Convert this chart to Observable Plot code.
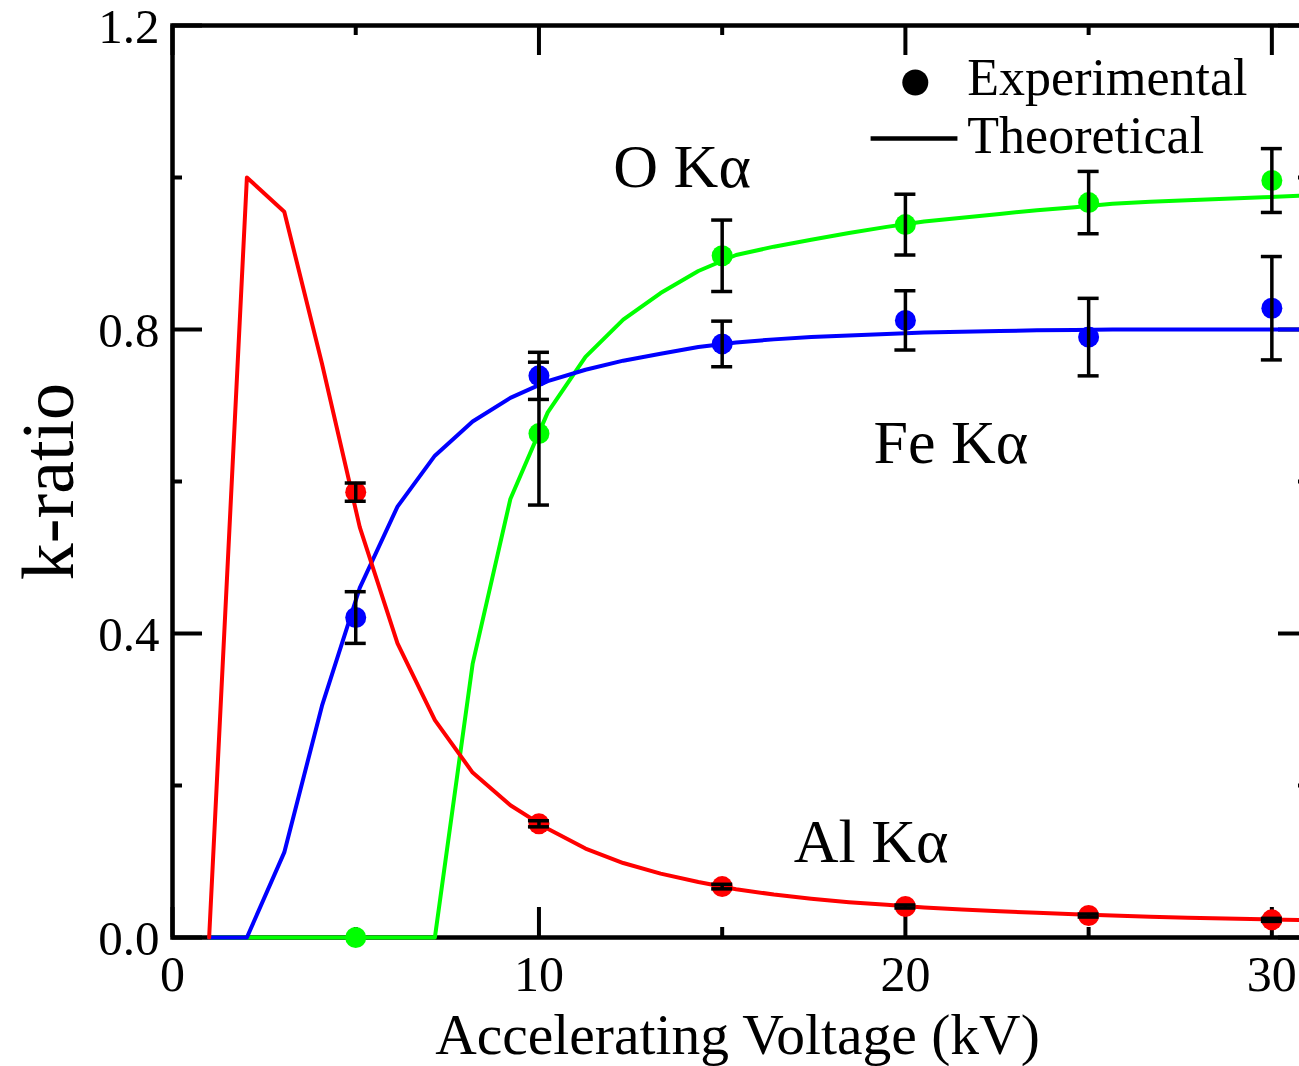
<!DOCTYPE html>
<html>
<head>
<meta charset="utf-8">
<script src="https://cdn.jsdelivr.net/npm/d3@7"></script>
<script src="https://cdn.jsdelivr.net/npm/@observablehq/plot@0.6"></script>
<style>
  html, body { margin: 0; padding: 0; background: #fff; overflow: hidden; }
  #chart svg { display: block; max-width: none !important; }
</style>
</head>
<body>
<div id="chart"></div>
<script>
// Simulated k-ratios (theory) on the calculation grid, in kV
const voltageGrid = [1, 2.03, 3.05, 4.08, 5.11, 6.14, 7.16, 8.19, 9.22, 10.24, 11.27, 12.30, 13.32, 14.35, 15.38,
  16.41, 17.43, 18.46, 19.49, 20.51, 21.54, 22.57, 23.59, 24.62, 25.65, 26.68, 27.70, 28.73, 29.76, 30.78, 31.81];
const alTheory = [0, 1.0, 0.955, 0.755, 0.54, 0.387, 0.286, 0.217, 0.174, 0.143, 0.117, 0.098, 0.084, 0.073, 0.0635,
  0.0565, 0.051, 0.0465, 0.043, 0.0395, 0.0368, 0.0345, 0.0325, 0.0305, 0.0288, 0.0273, 0.026, 0.0249, 0.0239, 0.0229, 0.022];
const feTheory = [0, 0, 0.112, 0.305, 0.46, 0.567, 0.634, 0.679, 0.71, 0.732, 0.747, 0.759, 0.768, 0.777, 0.783,
  0.787, 0.790, 0.792, 0.794, 0.796, 0.797, 0.798, 0.799, 0.7995, 0.8, 0.8, 0.8, 0.8, 0.8, 0.8, 0.8];
const oTheory = [0, 0, 0, 0, 0, 0, 0, 0.36, 0.577, 0.691, 0.764, 0.813, 0.848, 0.877, 0.898,
  0.909, 0.918, 0.927, 0.935, 0.942, 0.947, 0.952, 0.957, 0.961, 0.9655, 0.968, 0.970, 0.972, 0.974, 0.976, 0.977];

// Measured k-ratios with their uncertainties
const expVoltage = [5, 10, 15, 20, 25, 30];
const alMeasured = [0.586, 0.1496, 0.067, 0.0408, 0.0289, 0.0232];
const alError = [0.012, 0.004, 0.003, 0.002, 0.002, 0.002];
const feMeasured = [0.421, 0.739, 0.781, 0.812, 0.790, 0.828];
const feError = [0.034, 0.031, 0.030, 0.039, 0.051, 0.068];
const oMeasured = [0.0, 0.663, 0.897, 0.938, 0.967, 0.996];
const oError = [null, 0.094, 0.047, 0.040, 0.041, 0.042];

// Axis ticks
const xMajorTicks = [0, 10, 20, 30];
const xMinorTicks = [5, 15, 25];
const yMajorTicks = [0, 0.4, 0.8, 1.2];
const yMinorTicks = [0.2, 0.6, 1.0];
const yTickLabels = ["0.0", "0.4", "0.8", "1.2"];

const lineLabels = [
  {label: "O Kα", kV: 12.03, k: 0.987},
  {label: "Fe Kα", kV: 19.13, k: 0.6237},
  {label: "Al Kα", kV: 16.95, k: 0.0987}
];

const W = 1330, H = 1066;
const mL = 172, mR = 22, mT = 25, mB = 129;
const frameW = W - mL - mR, frameH = H - mT - mB;
const FONT = "Liberation Serif";

const theory = voltageGrid.map((v, i) => ({kV: v, al: alTheory[i], fe: feTheory[i], o: oTheory[i]}));

const series = [
  {key: "o", color: "#00ff00", values: oMeasured, err: oError},
  {key: "fe", color: "#0000ff", values: feMeasured, err: feError},
  {key: "al", color: "#ff0000", values: alMeasured, err: alError}
];

const dotMarks = series.map(s =>
  Plot.dot(expVoltage.map((v, i) => ({kV: v, k: s.values[i]})), {x: "kV", y: "k", r: 10.5, fill: s.color, stroke: "none"})
);

const bars = series.flatMap(s => expVoltage.map((v, i) => ({kV: v, k: s.values[i], err: s.err[i]})))
  .filter(d => d.err != null)
  .map(d => ({kV: d.kV, lo: d.k - d.err, hi: d.k + d.err}));

const tickStyle = {stroke: "black", strokeWidth: 4};

const chart = Plot.plot({
  width: W,
  height: H,
  marginLeft: mL,
  marginRight: mR,
  marginTop: mT,
  marginBottom: mB,
  x: {domain: [0, 31], axis: null},
  y: {domain: [0, 1.2], axis: null},
  style: {fontFamily: FONT, background: "white", color: "black", overflow: "visible"},
  marks: [
    Plot.frame({stroke: "black", strokeWidth: 4.5}),

    // inward ticks on all four sides
    Plot.ruleX(xMajorTicks, {x: d => d, insetTop: frameH - 30, ...tickStyle}),
    Plot.ruleX(xMajorTicks, {x: d => d, insetBottom: frameH - 30, ...tickStyle}),
    Plot.ruleX(xMinorTicks, {x: d => d, insetTop: frameH - 10, ...tickStyle}),
    Plot.ruleX(xMinorTicks, {x: d => d, insetBottom: frameH - 10, ...tickStyle}),
    Plot.ruleY(yMajorTicks, {y: d => d, insetRight: frameW - 30, ...tickStyle}),
    Plot.ruleY(yMajorTicks, {y: d => d, insetLeft: frameW - 30, ...tickStyle}),
    Plot.ruleY(yMinorTicks, {y: d => d, insetRight: frameW - 10, ...tickStyle}),
    Plot.ruleY(yMinorTicks, {y: d => d, insetLeft: frameW - 10, ...tickStyle}),

    // tick labels
    Plot.text(xMajorTicks, {x: d => d, text: d => String(d), frameAnchor: "bottom", dy: 53,
      lineAnchor: "bottom", fontSize: 50, fontFamily: FONT, fill: "black"}),
    Plot.text(yMajorTicks, {y: d => d, text: (d, i) => yTickLabels[i], frameAnchor: "left", textAnchor: "end",
      dx: -13, dy: 17, lineAnchor: "bottom", fontSize: 49, fontFamily: FONT, fill: "black"}),

    // axis titles
    Plot.text(["Accelerating Voltage (kV)"], {frameAnchor: "bottom", textAnchor: "middle", dy: 116, dx: -3,
      lineAnchor: "bottom", fontSize: 57.5, fontFamily: FONT, fill: "black"}),
    Plot.text(["k-ratio"], {frameAnchor: "left", textAnchor: "middle", dx: -100, rotate: -90, lineAnchor: "bottom",
      fontSize: 74, fontFamily: FONT, fill: "black"}),

    // theoretical curves
    Plot.line(theory, {x: "kV", y: "o", stroke: "#00ff00", strokeWidth: 4}),
    Plot.line(theory, {x: "kV", y: "fe", stroke: "#0000ff", strokeWidth: 4}),
    Plot.line(theory, {x: "kV", y: "al", stroke: "#ff0000", strokeWidth: 4}),

    // measurements
    ...dotMarks,
    Plot.ruleX(bars, {x: "kV", y1: "lo", y2: "hi", stroke: "black", strokeWidth: 3.5}),
    Plot.ruleY(bars, {y: "lo", x1: "kV", x2: "kV", insetLeft: -10.5, insetRight: -10.5, stroke: "black", strokeWidth: 3.5}),
    Plot.ruleY(bars, {y: "hi", x1: "kV", x2: "kV", insetLeft: -10.5, insetRight: -10.5, stroke: "black", strokeWidth: 3.5}),

    // curve labels
    Plot.text(lineLabels, {x: "kV", y: "k", text: "label", textAnchor: "start", lineAnchor: "bottom",
      fontSize: 62, fontFamily: FONT, fill: "black"}),

    // legend
    Plot.dot([{kV: 20.27, k: 1.125}], {x: "kV", y: "k", r: 13, fill: "black"}),
    Plot.link([{a: 19.05, b: 21.42, k: 1.0513}], {x1: "a", x2: "b", y1: "k", y2: "k", stroke: "black", strokeWidth: 4.5}),
    Plot.text([{label: "Experimental", kV: 21.69, k: 1.108}, {label: "Theoretical", kV: 21.69, k: 1.0316}],
      {x: "kV", y: "k", text: "label", textAnchor: "start", lineAnchor: "bottom", fontSize: 52, fontFamily: FONT, fill: "black"})
  ]
});

document.getElementById("chart").appendChild(chart);
</script>
</body>
</html>
